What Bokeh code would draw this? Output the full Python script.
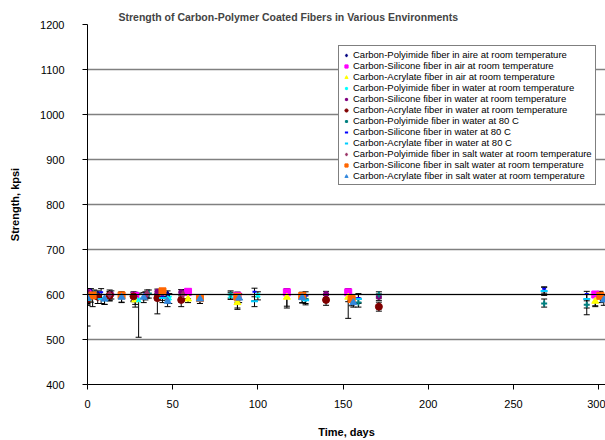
from bokeh.plotting import figure
from bokeh.models import ColumnDataSource, Whisker, TeeHead, Span, Range1d, FixedTicker, Title
from bokeh.embed import file_html
from bokeh.resources import INLINE

# ---------------- data ----------------
labels = [
    "Carbon-Polyimide fiber in aire at room temperature",
    "Carbon-Silicone fiber in air at room temperature",
    "Carbon-Acrylate fiber in air at room temperature",
    "Carbon-Polyimide fiber in water at room temperature",
    "Carbon-Silicone fiber in water at room temperature",
    "Carbon-Acrylate fiber in water at room temperature",
    "Carbon-Polyimide fiber in water at 80 C",
    "Carbon-Silicone fiber in water at 80 C",
    "Carbon-Acrylate fiber in water at 80 C",
    "Carbon-Polyimide fiber in salt water at room temperature",
    "Carbon-Silicone fiber in salt water at room temperature",
    "Carbon-Acrylate fiber in salt water at room temperature",
]

s1_days = [0, 2, 6, 13, 27, 47]
s1_vals = [603, 605, 600, 598, 596, 600]
s1_lo = [15, 12, 10, 12, 10, 10]
s1_hi = [10, 8, 8, 8, 8, 8]

s2_days = [0, 28, 59, 88, 117, 153, 298]
s2_vals = [602, 597, 606, 597, 605, 605, 600]
s2_lo = [20, 25, 15, 30, 35, 58, 25]
s2_hi = [8, 8, 6, 8, 8, 8, 6]

s3_days = [0, 28, 59, 88, 117, 153, 298]
s3_vals = [590, 588, 590, 582, 594, 594, 585]
s3_lo = [10, 10, 8, 12, 20, 10, 12]
s3_hi = [10, 10, 8, 12, 12, 10, 10]

s4_days = [2, 10, 30, 48, 84, 100]
s4_vals = [595, 590, 588, 592, 597, 598]
s4_lo = [12, 12, 83, 12, 8, 10]
s4_hi = [10, 10, 15, 10, 8, 8]

s5_days = [0, 14, 34, 41, 55, 140, 171]
s5_vals = [605, 600, 598, 606, 605, 601, 595]
s5_lo = [10, 10, 10, 8, 8, 8, 8]
s5_hi = [8, 8, 8, 6, 6, 6, 6]

s6_days = [0, 6, 13, 27, 41, 55, 140, 171]
s6_vals = [590, 595, 598, 596, 592, 588, 588, 573]
s6_lo = [60, 15, 12, 12, 35, 15, 12, 10]
s6_hi = [10, 10, 8, 10, 10, 12, 10, 10]

s7_days = [0, 4, 36, 44, 84, 128, 159, 171, 268, 293]
s7_vals = [598, 602, 602, 605, 600, 590, 582, 600, 580, 577]
s7_lo = [12, 10, 10, 10, 8, 10, 10, 8, 8, 22]
s7_hi = [10, 8, 8, 8, 8, 10, 10, 6, 10, 12]

s8_days = [0, 8, 44, 98, 128, 159, 268, 293]
s8_vals = [600, 605, 597, 606, 598, 592, 613, 601]
s8_lo = [10, 12, 10, 20, 10, 10, 10, 15]
s8_hi = [8, 8, 8, 8, 8, 10, 4, 6]

s9_days = [0, 8, 44, 98, 128, 159, 268, 293]
s9_vals = [588, 590, 592, 585, 587, 590, 608, 590]
s9_lo = [12, 10, 10, 12, 10, 10, 10, 20]
s9_hi = [10, 10, 10, 10, 10, 10, 8, 10]

s10_days = [0, 13, 35, 56]
s10_vals = [596, 600, 602, 600]
s10_lo = [10, 10, 10, 10]
s10_hi = [10, 10, 8, 8]

s11_days = [3, 20, 44, 66, 88, 126, 155, 301]
s11_vals = [598, 598, 607, 592, 595, 597, 590, 597]
s11_lo = [25, 15, 12, 12, 12, 15, 15, 15]
s11_hi = [8, 8, 6, 8, 10, 8, 10, 10]

s12_days = [0, 10, 20, 33, 47, 66, 89, 126, 156, 303]
s12_vals = [592, 590, 594, 594, 585, 590, 592, 593, 582, 588]
s12_lo = [15, 12, 12, 12, 12, 10, 10, 12, 10, 12]
s12_hi = [10, 10, 10, 10, 10, 10, 10, 10, 10, 10]

y_ticks = [400, 500, 600, 700, 800, 900, 1000, 1100, 1200]
x_ticks = [0, 50, 100, 150, 200, 250, 300]

series_days = [s1_days, s2_days, s3_days, s4_days, s5_days, s6_days,
               s7_days, s8_days, s9_days, s10_days, s11_days, s12_days]
series_vals = [s1_vals, s2_vals, s3_vals, s4_vals, s5_vals, s6_vals,
               s7_vals, s8_vals, s9_vals, s10_vals, s11_vals, s12_vals]
series_lo = [s1_lo, s2_lo, s3_lo, s4_lo, s5_lo, s6_lo,
             s7_lo, s8_lo, s9_lo, s10_lo, s11_lo, s12_lo]
series_hi = [s1_hi, s2_hi, s3_hi, s4_hi, s5_hi, s6_hi,
             s7_hi, s8_hi, s9_hi, s10_hi, s11_hi, s12_hi]

markers = ["diamond", "square", "triangle", "x", "asterisk", "circle",
           "cross", "dash", "dash", "diamond", "square", "triangle"]
colors = ["#000080", "#FF00FF", "#FFFF00", "#00FFFF", "#800080", "#800000",
          "#008080", "#0000FF", "#00CCFF", "#993366", "#FF6600", "#3388DD"]
sizes = [7, 7, 7, 6, 6, 7, 6, 4, 7, 7, 7, 7]

FONT = "Liberation Sans"

p = figure(width=605, height=440, output_backend="svg", toolbar_location=None,
           x_range=Range1d(0, 304), y_range=Range1d(400, 1200),
           min_border_left=87, min_border_right=0, min_border_top=24, min_border_bottom=55)
p.outline_line_color = None
p.background_fill_color = "white"
p.border_fill_color = "white"

p.title = Title(text="Strength of Carbon-Polymer Coated Fibers in Various Environments",
                text_font=FONT, text_font_size="10.5px", text_font_style="bold",
                align="left", offset=31, standoff=4)

p.xaxis.ticker = FixedTicker(ticks=x_ticks)
p.yaxis.ticker = FixedTicker(ticks=y_ticks)
for ax in (p.xaxis, p.yaxis):
    ax.axis_line_color = "black"
    ax.major_tick_line_color = "black"
    ax.major_tick_out = 5
    ax.major_tick_in = 0
    ax.minor_tick_line_color = None
    ax.major_label_text_font = FONT
    ax.major_label_text_font_size = "11px"
    ax.major_label_text_color = "black"
    ax.axis_label_text_font = FONT
    ax.axis_label_text_font_size = "11px"
    ax.axis_label_text_font_style = "bold"
    ax.axis_label_text_color = "black"
p.xaxis.axis_label = "Time, days"
p.yaxis.axis_label = "Strength, kpsi"
p.xaxis.major_label_standoff = 10
p.xaxis.axis_label_standoff = 15
p.yaxis.major_label_standoff = 18
p.yaxis.axis_label_standoff = 16

p.xgrid.grid_line_color = None
p.ygrid.grid_line_color = "#808080"
p.ygrid.grid_line_width = 1.5

p.add_layout(Span(location=600, dimension="width", line_color="black", line_width=1))

# error bars
for d, v, lo, hi in zip(series_days, series_vals, series_lo, series_hi):
    src = ColumnDataSource(dict(x=d, lower=[a - b for a, b in zip(v, lo)],
                                upper=[a + b for a, b in zip(v, hi)]))
    w = Whisker(base="x", lower="lower", upper="upper", source=src,
                line_color="black", line_width=1,
                upper_head=TeeHead(size=6, line_color="black", line_width=1),
                lower_head=TeeHead(size=6, line_color="black", line_width=1))
    p.add_layout(w)

for i in range(12):
    src = ColumnDataSource(dict(x=series_days[i], y=series_vals[i]))
    line_w = 2 if markers[i] in ("x", "asterisk", "cross", "dash") else 1
    p.scatter("x", "y", source=src, marker=markers[i], size=sizes[i],
              fill_color=colors[i], line_color=colors[i], line_width=line_w,
              legend_label=labels[i])

lg = p.legend[0]
lg.location = (251, 199)
lg.label_text_font = FONT
lg.label_text_font_size = "9.5px"
lg.label_text_color = "black"
lg.label_height = 10
lg.glyph_height = 10
lg.glyph_width = 8
lg.label_standoff = 3
lg.spacing = 0
lg.padding = 3
lg.margin = 0
lg.border_line_color = "black"
lg.border_line_width = 1
lg.background_fill_alpha = 1
lg.background_fill_color = "white"

open("out.html", "w").write(file_html(p, INLINE))
